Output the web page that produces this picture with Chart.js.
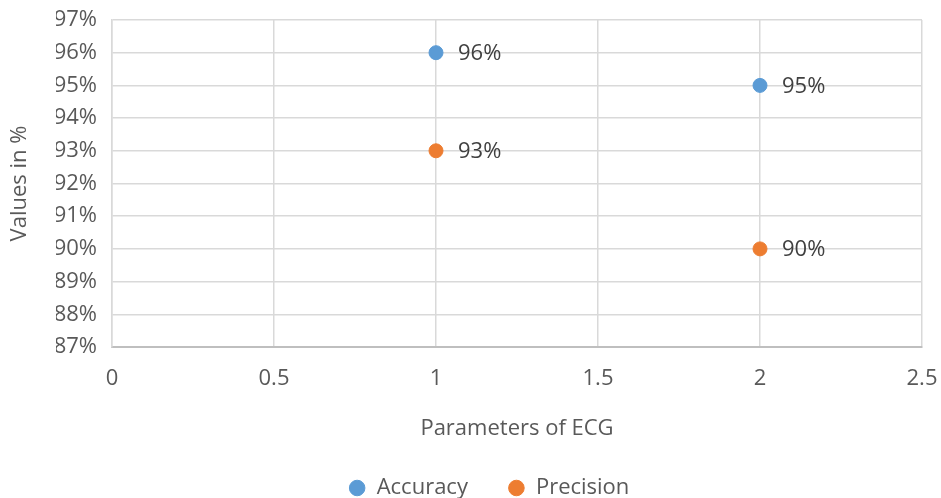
<!DOCTYPE html>
<html>
<head>
<meta charset="utf-8">
<script src="https://cdn.jsdelivr.net/npm/chart.js@4/dist/chart.umd.min.js"></script>
<style>
  html, body { margin: 0; padding: 0; background: #fff; }
  #wrap { width: 941px; height: 498px; position: relative; }
</style>
</head>
<body>
<div id="wrap"><canvas id="ecgChart"></canvas></div>
<script>
// values
const seriesNames = ['Accuracy', 'Precision'];
const xValues = [1, 2];
const accuracy = [96, 95];
const precision = [93, 90];
const xTicks = [0, 0.5, 1, 1.5, 2, 2.5];
const yTicks = [87, 88, 89, 90, 91, 92, 93, 94, 95, 96, 97];

const blue = '#5B9BD5';
const orange = '#ED7D31';
const textGray = '#595959';
const font = "'Open Sans', 'Liberation Sans', sans-serif";
const fontSize = 22;

function toPoints(ys) {
    return xValues.map((x, i) => ({ x: x, y: ys[i] }));
}

// data labels to the right of each point
const pointLabels = {
    id: 'pointLabels',
    afterDatasetsDraw(chart) {
        const ctx = chart.ctx;
        ctx.save();
        ctx.font = fontSize + 'px ' + font;
        ctx.fillStyle = '#404040';
        ctx.textAlign = 'left';
        ctx.textBaseline = 'middle';
        chart.data.datasets.forEach((ds, i) => {
            chart.getDatasetMeta(i).data.forEach((pt, j) => {
                ctx.fillText(ds.data[j].y + '%', pt.x + 22, pt.y + 1);
            });
        });
        ctx.restore();
    }
};

const ctx = document.getElementById('ecgChart').getContext('2d');
const chart = new Chart(ctx, {
    type: 'scatter',
    data: {
        datasets: [
            {
                label: seriesNames[0],
                data: toPoints(accuracy),
                backgroundColor: blue,
                borderColor: blue,
                pointRadius: 7,
                pointHoverRadius: 7
            },
            {
                label: seriesNames[1],
                data: toPoints(precision),
                backgroundColor: orange,
                borderColor: orange,
                pointRadius: 7,
                pointHoverRadius: 7
            }
        ]
    },
    options: {
        responsive: true,
        maintainAspectRatio: false,
        animation: false,
        layout: {
            padding: { left: 56, right: 19, top: 20, bottom: -11 }
        },
        plugins: {
            legend: {
                position: 'bottom',
                labels: {
                    usePointStyle: true,
                    pointStyle: 'circle',
                    boxWidth: 17,
                    boxHeight: 11,
                    padding: 40,
                    color: textGray,
                    font: { family: font, size: fontSize }
                }
            },
            tooltip: { enabled: false }
        },
        scales: {
            x: {
                type: 'linear',
                min: 0,
                max: 2.5,
                afterBuildTicks: axis => { axis.ticks = xTicks.map(v => ({ value: v })); },
                afterFit: axis => {
                    axis.height = 90;
                    axis.paddingLeft = 0;
                    axis.paddingRight = 0;
                },
                ticks: {
                    color: textGray,
                    padding: 19,
                    font: { family: font, size: fontSize },
                    callback: v => String(v)
                },
                grid: { color: '#d9d9d9', lineWidth: 1.5, drawTicks: false },
                border: { color: '#bfbfbf', width: 2 },
                title: {
                    display: true,
                    text: 'Parameters of ECG',
                    color: textGray,
                    font: { family: font, size: fontSize },
                    padding: { top: 0, bottom: -5 }
                }
            },
            y: {
                min: 87,
                max: 97,
                afterBuildTicks: axis => { axis.ticks = yTicks.map(v => ({ value: v })); },
                afterFit: axis => {
                    axis.width = 56;
                    axis.paddingTop = 0;
                    axis.paddingBottom = 0;
                },
                ticks: {
                    color: textGray,
                    padding: 15,
                    font: { family: font, size: fontSize },
                    callback: v => v + '%'
                },
                grid: { color: '#d9d9d9', lineWidth: 1.5, drawTicks: false },
                border: { color: '#d9d9d9', width: 1.5 },
                title: {
                    display: true,
                    text: 'Values in %',
                    color: textGray,
                    font: { family: font, size: fontSize },
                    padding: { top: -49, bottom: 0 }
                }
            }
        }
    },
    plugins: [pointLabels]
});
</script>
</body>
</html>
